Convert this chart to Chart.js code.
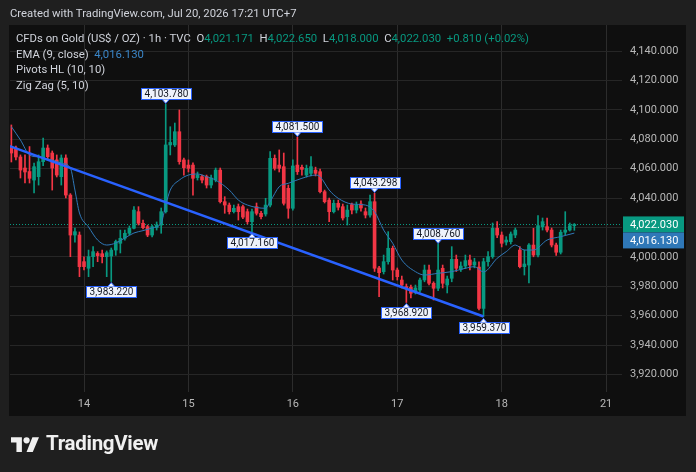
<!DOCTYPE html>
<html>
<head>
<meta charset="utf-8">
<script src="https://cdn.jsdelivr.net/npm/chart.js@4.4.0/dist/chart.umd.min.js"></script>
<style>
  body { margin: 0; background: #1f1f1f; font-family: Roboto, "Liberation Sans", sans-serif; }
  #wrap { position: relative; width: 696px; height: 472px; overflow: hidden; }
  canvas { position: absolute; left: 0; top: 0; }
  .hdr { position: absolute; left: 10px; top: 6px; line-height: 16px; font-size: 11.3px; color: #d1d4dc; }
  .leg { position: absolute; left: 16px; line-height: 16px; font-size: 11.3px; color: #d1d4dc; white-space: pre; }
  .v { color: #089981; }
  .ema { color: #3a86c8; }
  .logo { position: absolute; left: 11px; top: 432px; height: 22px; display: flex; align-items: center; color: #f0f0f0; font-weight: bold; font-size: 20.5px; letter-spacing: -0.3px; }
  .logo svg { margin-right: 7px; }
</style>
</head>
<body>
<div id="wrap">
  <canvas id="chart" width="696" height="472"></canvas>
  <div class="hdr">Created with TradingView.com, Jul 20, 2026 17:21 UTC+7</div>
  <div class="leg" id="leg1" style="top:31px"></div>
  <div class="leg" id="leg2" style="top:47px"></div>
  <div class="leg" style="top:62px">Pivots HL (10, 10)</div>
  <div class="leg" style="top:78px">Zig Zag (5, 10)</div>
  <div class="logo">
    <svg width="28" height="18" viewBox="0 0 36 23"><path fill="#f0f0f0" d="M14 23H7V11H0V4h14zM28 23h-8l7.5-19h8.5z"/><circle fill="#f0f0f0" cx="20" cy="8" r="4"/></svg>
    <span>TradingView</span>
  </div>
</div>
<script>
// hourly candles, index 0 = first visible bar
const openP = [
  4074.7, 4074.0, 4067.9, 4060.4, 4058.0, 4052.2, 4054.5, 4064.7, 4074.0, 4070.6,
  4065.9, 4054.5, 4067.2, 4042.0, 4014.8, 4014.8, 3996.7, 3992.2, 4000.1, 4002.3,
  4002.1, 4000.1, 4000.5, 4004.6, 4009.2, 4012.6, 4016.0, 4019.4, 4030.7, 4022.8,
  4020.5, 4014.8, 4019.8, 4021.6, 4030.7, 4076.1, 4076.1, 4085.1, 4065.9, 4062.4,
  4062.4, 4053.8, 4054.5, 4054.5, 4048.8, 4052.2, 4059.0, 4037.5, 4035.2, 4030.7,
  4034.1, 4034.1, 4030.7, 4023.9, 4034.1, 4029.6, 4029.1, 4035.2, 4067.0, 4062.4,
  4061.3, 4046.6, 4033.0, 4062.4, 4060.9, 4055.6, 4056.8, 4059.0, 4057.9, 4044.3,
  4038.6, 4030.7, 4036.4, 4034.1, 4027.3, 4035.5, 4031.8, 4035.9, 4030.7, 4028.4,
  4037.5, 3992.4, 3989.9, 3996.7, 4005.8, 3991.0, 3984.2, 3979.7, 3979.3, 3976.3,
  3977.4, 3984.2, 3991.0, 3982.0, 3978.6, 3992.2, 3980.8, 3985.4, 3998.3, 3991.5,
  3993.7, 3997.8, 3994.4, 3993.0, 3964.9, 3996.7, 4000.1, 4019.4, 4014.8, 4010.0,
  4010.3, 4014.8, 4004.6, 3993.3, 3994.4, 4008.0, 4001.2, 4020.5, 4020.5, 4018.2,
  4008.0, 4003.1, 4016.7, 4018.2, 4021.171
];
const highP = [
  4089.7, 4075.4, 4069.3, 4069.3, 4075.0, 4063.8, 4069.3, 4080.8, 4076.1, 4072.0,
  4069.3, 4069.3, 4069.3, 4043.0, 4019.6, 4016.9, 4000.0, 4004.6, 4006.9, 4003.5,
  4004.6, 4004.0, 4006.0, 4011.4, 4018.2, 4018.2, 4021.0, 4034.1, 4034.1, 4025.0,
  4021.6, 4021.6, 4023.7, 4033.2, 4103.78, 4088.5, 4091.0, 4099.9, 4067.2, 4065.9,
  4064.0, 4057.7, 4055.6, 4055.6, 4055.6, 4060.4, 4060.4, 4040.9, 4036.6, 4035.2,
  4035.9, 4035.2, 4032.5, 4032.5, 4036.6, 4031.0, 4039.8, 4071.5, 4069.3, 4072.7,
  4070.6, 4048.8, 4065.9, 4081.5, 4062.4, 4062.4, 4068.1, 4061.0, 4059.7, 4045.4,
  4040.0, 4038.6, 4038.6, 4035.9, 4035.2, 4036.6, 4037.3, 4038.0, 4033.2, 4042.0,
  4043.298, 3993.5, 4001.2, 4017.1, 4007.3, 3992.4, 3986.9, 3981.5, 3980.8, 3980.8,
  3985.6, 3994.4, 3994.4, 3983.0, 4008.76, 3994.4, 3986.9, 4006.9, 4001.2, 3996.5,
  4001.2, 4001.2, 3999.0, 3996.5, 3999.0, 4003.5, 4023.0, 4023.9, 4016.9, 4013.7,
  4016.9, 4019.6, 4006.9, 4004.6, 4009.0, 4019.4, 4028.0, 4026.4, 4026.4, 4019.6,
  4009.4, 4018.2, 4030.7, 4023.0, 4022.65
];
const lowP = [
  4064.5, 4065.9, 4053.6, 4050.2, 4050.2, 4043.4, 4048.8, 4062.0, 4065.9, 4045.4,
  4054.3, 4048.8, 4040.0, 4000.1, 4010.0, 3986.5, 3991.0, 3986.5, 3993.3, 3996.7,
  3995.8, 3986.5, 3983.22, 4001.0, 4002.6, 4011.4, 4014.8, 4018.9, 4021.6, 4018.9,
  4013.7, 4013.5, 4018.2, 4016.0, 4029.8, 4069.3, 4075.0, 4063.0, 4055.6, 4057.7,
  4042.0, 4052.2, 4050.2, 4046.8, 4046.8, 4051.0, 4036.6, 4029.6, 4029.1, 4029.8,
  4025.0, 4026.0, 4022.3, 4017.16, 4028.4, 4025.7, 4027.7, 4034.0, 4059.0, 4057.7,
  4035.2, 4026.2, 4031.8, 4056.0, 4055.6, 4054.3, 4055.0, 4055.0, 4043.4, 4036.6,
  4023.9, 4029.8, 4031.8, 4025.0, 4021.6, 4029.1, 4029.8, 4031.0, 4026.4, 4027.0,
  3990.0, 3972.9, 3988.3, 3995.0, 3984.2, 3984.2, 3978.8, 3968.92, 3972.0, 3974.7,
  3976.0, 3983.0, 3980.8, 3970.6, 3977.0, 3978.8, 3975.4, 3983.0, 3990.0, 3990.0,
  3992.0, 3991.0, 3992.5, 3963.8, 3959.37, 3993.7, 3999.0, 4013.0, 4006.7, 4008.0,
  4008.7, 4013.0, 3992.4, 3987.6, 3982.2, 4000.0, 4000.0, 4018.2, 4017.0, 4006.7,
  4001.0, 4001.9, 4015.0, 4017.5, 4018.0
];
const closeP = [
  4070.6, 4067.9, 4059.0, 4057.7, 4053.4, 4061.3, 4064.7, 4074.0, 4068.1, 4060.4,
  4055.6, 4067.2, 4042.0, 4014.8, 4017.1, 3993.3, 3993.3, 4000.1, 4003.5, 4000.8,
  4000.1, 4002.8, 4004.6, 4010.4, 4012.6, 4016.0, 4019.4, 4031.8, 4022.8, 4019.8,
  4014.8, 4020.5, 4021.6, 4030.7, 4076.1, 4077.8, 4085.1, 4064.7, 4060.6, 4060.2,
  4053.4, 4055.6, 4052.2, 4048.8, 4053.6, 4059.0, 4037.5, 4035.2, 4030.7, 4033.0,
  4030.7, 4027.0, 4023.9, 4030.7, 4029.6, 4027.3, 4035.2, 4067.0, 4060.2, 4060.2,
  4036.4, 4033.0, 4061.8, 4057.9, 4059.5, 4060.2, 4061.3, 4056.8, 4044.3, 4037.5,
  4030.7, 4036.4, 4033.7, 4026.4, 4031.8, 4031.8, 4035.2, 4033.2, 4028.4, 4037.5,
  3992.2, 3989.2, 3996.7, 4005.8, 3991.0, 3986.5, 3980.8, 3978.6, 3975.2, 3978.8,
  3984.2, 3991.0, 3982.0, 3978.6, 3991.0, 3982.0, 3984.9, 3998.3, 3992.2, 3993.7,
  3997.4, 3994.4, 3996.5, 3964.9, 3996.7, 4000.1, 4019.4, 4014.8, 4009.2, 4011.4,
  4015.5, 4018.2, 3993.3, 3995.1, 4008.0, 4001.2, 4021.2, 4023.9, 4018.2, 4008.0,
  4003.1, 4016.7, 4018.2, 4021.22, 4022.03
];

// EMA(9) at these bar indices
const emaIdx = [0, 2, 4, 6, 9, 11, 13, 14, 15, 17, 19, 21, 23, 25, 27, 29, 31, 33, 34, 35,
  37, 39, 41, 43, 45, 48, 50, 52, 56, 57, 59, 61, 64, 67, 68, 70, 72, 75, 78, 80,
  82, 84, 86, 89, 91, 94, 97, 100, 102, 104, 107, 109, 111, 113, 115, 118, 121, 124];
const emaVal = [4088.5, 4079.5, 4069.3, 4067.9, 4065.8, 4063.8, 4060.4, 4045.4, 4029.8, 4020.3,
  4011.4, 4008.0, 4009.4, 4012.8, 4016.2, 4017.8, 4019.6, 4023.0, 4035.2, 4045.4,
  4052.2, 4055.6, 4056.3, 4054.5, 4052.2, 4045.4, 4038.6, 4035.2, 4033.0, 4037.5,
  4047.7, 4050.0, 4053.4, 4055.6, 4054.5, 4045.4, 4039.8, 4035.9, 4035.2, 4030.7,
  4018.2, 4009.2, 3997.8, 3989.9, 3987.6, 3988.8, 3989.9, 3992.2, 3993.3, 3989.7,
  3999.0, 4003.5, 4008.0, 4004.6, 4004.6, 4011.4, 4013.7, 4016.13];

// zig zag leg and pivot labels
const zigIdx = [-1, 104];
const zigVal = [4076.0, 3959.37];
const pivotIdx = [34, 22, 53, 63, 80, 94, 87, 104];
const pivotVal = [4103.78, 3983.22, 4017.16, 4081.5, 4043.298, 4008.76, 3968.92, 3959.37];
const pivotUp = [true, false, false, true, true, true, false, false];

// axis ticks
const dayTicks = [16, 39, 62, 85, 108, 131];
const dayLabels = ['14', '15', '16', '17', '18', '21'];
const priceTicks = [3920, 3940, 3960, 3980, 4000, 4020, 4040, 4060, 4080, 4100, 4120, 4140];

const upColor = '#089981';
const downColor = '#f23645';
const emaColor = '#2f78b8';
const zigColor = '#2962ff';

const fmt = (v) => v.toLocaleString('en-US', { minimumFractionDigits: 3, maximumFractionDigits: 3 });

const last = closeP.length - 1;
const lastClose = closeP[last];
const lastEma = emaVal[emaVal.length - 1];
const chg = lastClose - closeP[last - 1];

document.getElementById('leg1').innerHTML =
  'CFDs on Gold (US$ / OZ) · 1h · TVC  O<span class="v">' + fmt(openP[last]) +
  '</span>  H<span class="v">' + fmt(highP[last]) +
  '</span>  L<span class="v">' + fmt(lowP[last]) +
  '</span>  C<span class="v">' + fmt(lastClose) +
  '</span>  <span class="v">+' + chg.toFixed(3) + ' (+' + (chg / closeP[last - 1] * 100).toFixed(2) + '%)</span>';
document.getElementById('leg2').innerHTML = 'EMA (9, close)  <span class="ema">' + fmt(lastEma) + '</span>';

const idx = openP.map((_, i) => i);
const candleColors = idx.map(i => closeP[i] >= openP[i] ? upColor : downColor);

function priceBox(ctx, x, yMid, text, bg) {
  ctx.fillStyle = bg;
  ctx.fillRect(x, yMid - 8, 61, 16);
  ctx.fillStyle = '#ffffff';
  ctx.textAlign = 'left';
  ctx.textBaseline = 'middle';
  ctx.fillText(text, x + 7, yMid + 0.5);
}

function pivotLabel(ctx, x, y, text, up) {
  ctx.font = '10px Roboto, sans-serif';
  const w = Math.round(ctx.measureText(text).width) + 6;
  const h = 11;
  const left = Math.round(x - w / 2) + 0.5;
  const top = up ? Math.round(y - 5 - h) + 0.5 : Math.round(y + 5) + 0.5;
  ctx.fillStyle = '#eef2fb';
  ctx.strokeStyle = zigColor;
  ctx.lineWidth = 1;
  ctx.fillRect(left, top, w, h);
  ctx.strokeRect(left, top, w, h);
  // little pointer towards the pivot
  const ty = up ? top + h : top;
  ctx.beginPath();
  ctx.moveTo(x - 3.5, ty);
  ctx.lineTo(x, up ? ty + 4 : ty - 4);
  ctx.lineTo(x + 3.5, ty);
  ctx.closePath();
  ctx.fill();
  ctx.beginPath();
  ctx.moveTo(x - 3.5, ty);
  ctx.lineTo(x, up ? ty + 4 : ty - 4);
  ctx.lineTo(x + 3.5, ty);
  ctx.stroke();
  ctx.fillStyle = '#131722';
  ctx.textAlign = 'center';
  ctx.textBaseline = 'middle';
  ctx.fillText(text, left + w / 2, top + h / 2 + 0.5);
}

const paneBg = {
  id: 'paneBg',
  beforeDraw(chart) {
    const c = chart.ctx;
    c.save();
    c.fillStyle = '#0f0f0f';
    c.fillRect(9, 25, 677, 391);
    c.restore();
  },
  beforeDatasetsDraw(chart) {
    const { ctx, chartArea: a, scales: { y } } = chart;
    const yc = Math.round(y.getPixelForValue(lastClose)) + 0.5;
    ctx.save();
    ctx.strokeStyle = upColor;
    ctx.setLineDash([1, 2]);
    ctx.beginPath();
    ctx.moveTo(a.left, yc);
    ctx.lineTo(a.right, yc);
    ctx.stroke();
    ctx.restore();
  },
  afterDatasetsDraw(chart) {
    const { ctx, scales: { x, y } } = chart;
    ctx.save();
    pivotIdx.forEach((p, k) => {
      pivotLabel(ctx, x.getPixelForValue(p), y.getPixelForValue(pivotVal[k]), fmt(pivotVal[k]), pivotUp[k]);
    });
    ctx.restore();
  },
  afterDraw(chart) {
    const { ctx, chartArea: a, scales: { y } } = chart;
    const yc = y.getPixelForValue(lastClose);
    const ye = Math.max(y.getPixelForValue(lastEma), yc + 16);
    ctx.save();
    ctx.font = '11px Roboto, sans-serif';
    priceBox(ctx, a.right + 1, yc, fmt(lastClose), upColor);
    priceBox(ctx, a.right + 1, ye, fmt(lastEma), emaColor);
    ctx.restore();
  }
};

new Chart(document.getElementById('chart'), {
  type: 'bar',
  data: {
    datasets: [
      {
        type: 'line',
        label: 'Zig Zag',
        data: zigIdx.map((v, k) => ({ x: v, y: zigVal[k] })),
        borderColor: zigColor,
        borderWidth: 2.5,
        pointRadius: 0,
        order: 1
      },
      {
        type: 'line',
        label: 'EMA',
        data: emaIdx.map((v, k) => ({ x: v, y: emaVal[k] })),
        borderColor: emaColor,
        borderWidth: 1,
        pointRadius: 0,
        cubicInterpolationMode: 'monotone',
        order: 2
      },
      {
        label: 'body',
        data: idx.map(i => ({ x: i, y: [openP[i], closeP[i]] })),
        backgroundColor: candleColors,
        barThickness: 3,
        minBarLength: 1,
        grouped: false,
        order: 3
      },
      {
        label: 'wick',
        data: idx.map(i => ({ x: i, y: [lowP[i], highP[i]] })),
        backgroundColor: candleColors,
        barThickness: 1,
        grouped: false,
        order: 4
      }
    ]
  },
  options: {
    responsive: false,
    animation: false,
    layout: { padding: { left: 10, top: 25, right: 10, bottom: 56 } },
    plugins: { legend: { display: false }, tooltip: { enabled: false } },
    scales: {
      x: {
        type: 'linear',
        min: -0.3,
        max: 134.5,
        offset: false,
        afterFit: (axis) => { axis.height = 24; },
        afterBuildTicks: (axis) => { axis.ticks = dayTicks.map(v => ({ value: v })); },
        grid: { color: '#2c2c2c', drawTicks: false, offset: false },
        border: { display: false },
        ticks: {
          autoSkip: false,
          maxRotation: 0,
          padding: 6,
          color: '#b8b8b8',
          font: { family: 'Roboto', size: 11 },
          callback: (v) => dayLabels[dayTicks.indexOf(v)]
        }
      },
      y: {
        position: 'right',
        min: 3908.03,
        max: 4157.69,
        afterFit: (axis) => { axis.width = 64; },
        afterBuildTicks: (axis) => { axis.ticks = priceTicks.map(v => ({ value: v })); },
        grid: { color: '#262626', drawTicks: false },
        border: { display: false },
        ticks: {
          padding: 8,
          color: '#b8b8b8',
          font: { family: 'Roboto', size: 11 },
          callback: (v) => fmt(v)
        }
      }
    }
  },
  plugins: [paneBg]
});
</script>
</body>
</html>
